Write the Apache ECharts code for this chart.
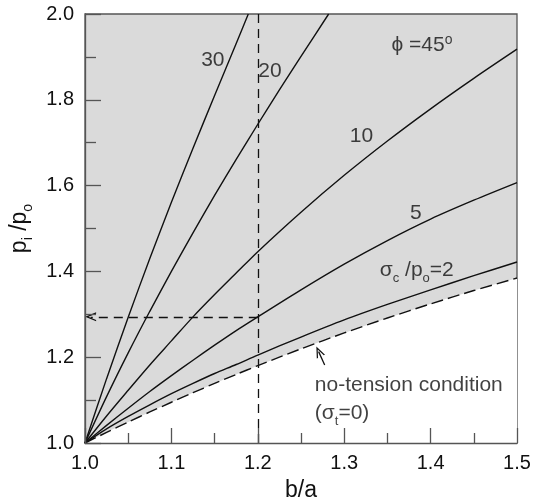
<!DOCTYPE html>
<html>
<head>
<meta charset="utf-8">
<script src="https://cdn.jsdelivr.net/npm/echarts@6/dist/echarts.min.js"></script>
<style>
  html, body { margin: 0; padding: 0; background: #fff; }
  #chart { width: 538px; height: 500px; }
</style>
</head>
<body>
<div id="chart"></div>
<script>
// p_i/p_o vs b/a, phi = 45 deg, one curve per sigma_c/p_o
var x30 = [1.0, 1.025, 1.05, 1.075, 1.1, 1.125, 1.15, 1.175, 1.189];
var y30 = [1.0, 1.150, 1.293, 1.430, 1.561, 1.687, 1.810, 1.931, 2.0];

var x20 = [1.0, 1.025, 1.05, 1.075, 1.1, 1.125, 1.15, 1.175, 1.2, 1.225, 1.25, 1.282];
var y20 = [1.0, 1.108, 1.210, 1.307, 1.400, 1.490, 1.577, 1.661, 1.743, 1.823, 1.901, 2.0];

var xs = [1.0, 1.025, 1.05, 1.075, 1.1, 1.125, 1.15, 1.175, 1.2, 1.25, 1.3, 1.35, 1.4, 1.45, 1.5];
var y10 = [1.0, 1.063, 1.123, 1.182, 1.238, 1.294, 1.346, 1.396, 1.446, 1.538, 1.624, 1.704, 1.779, 1.850, 1.918];
var y5 = [1.0, 1.041, 1.081, 1.120, 1.157, 1.193, 1.228, 1.262, 1.294, 1.357, 1.417, 1.472, 1.522, 1.566, 1.607];
var y2 = [1.0, 1.033, 1.062, 1.089, 1.115, 1.139, 1.162, 1.183, 1.205, 1.247, 1.287, 1.323, 1.357, 1.390, 1.422];
var yNoTension = [1.0, 1.0247, 1.0488, 1.0723, 1.0950, 1.1172, 1.1389, 1.1599, 1.1803, 1.2195, 1.2565, 1.2914, 1.3243, 1.3554, 1.3846];

var xTicks = ['1.0', '1.1', '1.2', '1.3', '1.4', '1.5'];
var yTicks = ['1.0', '1.2', '1.4', '1.6', '1.8', '2.0'];

// worked example: b/a = 1.2 -> p_i/p_o = 1.294
var refX = 1.2;
var refY = 1.294;

var FONT = '"Liberation Sans", Arial, sans-serif';
var CHEVRON = 'path://M5,0 L10,10 L8.5,10 L5,3 L1.5,10 L0,10 Z';

function pairs(x, y) {
  return x.map(function(v, i) { return [v, y[i]]; });
}

function curve(name, x, y, dashed, extra) {
  var s = {
    name: name,
    type: 'line',
    data: pairs(x, y),
    symbol: 'none',
    smooth: 0.3,
    silent: true,
    lineStyle: { color: '#111', width: 1.4, type: dashed ? [12, 5] : 'solid' },
    z: 3
  };
  if (extra) for (var k in extra) s[k] = extra[k];
  return s;
}

var rich = {
  n: { fontSize: 21, fontFamily: FONT, color: '#111', lineHeight: 23 },
  sub: { fontSize: 13, fontFamily: FONT, color: '#111', lineHeight: 13, verticalAlign: 'bottom', padding: [0, 0, -3, 0] },
  sup: { fontSize: 14, fontFamily: FONT, color: '#111', lineHeight: 14, verticalAlign: 'top' }
};
var richName = {
  n: { fontSize: 23, fontFamily: FONT, color: '#111', lineHeight: 25 },
  sub: { fontSize: 14, fontFamily: FONT, color: '#111', lineHeight: 14, verticalAlign: 'bottom', padding: [0, 0, -3, 0] }
};

var notes = [
  { value: [1.148, 1.892], text: '{n|30}', align: 'center' },
  { value: [1.214, 1.866], text: '{n|20}', align: 'center' },
  { value: [1.320, 1.714], text: '{n|10}', align: 'center' },
  { value: [1.383, 1.536], text: '{n|5}', align: 'center' },
  { value: [1.384, 1.403], text: '{n|σ}{sub|c}{n| /p}{sub|o}{n|=2}', align: 'center' },
  { value: [1.390, 1.928], text: '{n|ϕ =45}{sup|o}', align: 'center' },
  { value: [1.266, 1.135], text: '{n|no-tension condition}', align: 'left' },
  { value: [1.266, 1.069], text: '{n|(σ}{sub|t}{n|=0)}', align: 'left' }
];

var chart = echarts.init(document.getElementById('chart'));

chart.setOption({
  animation: false,
  backgroundColor: '#fff',
  grid: {
    left: 85, right: 21, top: 14, bottom: 57,
    outerBoundsMode: 'none',
    show: true,
    backgroundColor: '#dadada',
    borderColor: '#555',
    borderWidth: 1.3
  },
  xAxis: {
    type: 'value',
    min: 1.0, max: 1.5, interval: 0.1,
    z: 5,
    name: 'b/a',
    nameLocation: 'middle',
    nameGap: 36,
    nameTextStyle: { fontSize: 23, fontFamily: FONT, color: '#111' },
    axisLine: { show: true, lineStyle: { color: '#555', width: 1.3 } },
    axisTick: { show: true, inside: true, length: 15, lineStyle: { color: '#555', width: 1.3 } },
    minorTick: { show: true, splitNumber: 2, length: 10, lineStyle: { color: '#555', width: 1.3 } },
    splitLine: { show: false },
    axisLabel: {
      margin: 10, fontSize: 20, fontFamily: FONT, color: '#111',
      formatter: function(v) { return xTicks[Math.round((v - 1) * 10)]; }
    }
  },
  yAxis: {
    type: 'value',
    min: 1.0, max: 2.0, interval: 0.2,
    z: 5,
    name: '{n|p}{sub|i}{n| /p}{sub|o}',
    nameLocation: 'middle',
    nameRotate: 90,
    nameGap: 34,
    nameTextStyle: { rich: richName },
    axisLine: { show: true, lineStyle: { color: '#555', width: 1.3 } },
    axisTick: { show: true, inside: true, length: 16, lineStyle: { color: '#555', width: 1.3 } },
    minorTick: { show: true, splitNumber: 2, length: 11, lineStyle: { color: '#555', width: 1.3 } },
    splitLine: { show: false },
    axisLabel: {
      margin: 11, fontSize: 20, fontFamily: FONT, color: '#111',
      formatter: function(v) { return yTicks[Math.round((v - 1) * 5)]; }
    }
  },
  series: [
    // white area below the no-tension line, grey stays above it
    curve('no-tension', xs, yNoTension, true, {
      areaStyle: { color: '#fff', opacity: 1, origin: 'start' },
      z: 2,
      markLine: {
        silent: true,
        symbol: ['none', 'none'],
        label: { show: false },
        lineStyle: { color: '#111', width: 1.3, type: [9, 6] },
        data: [
          [{ coord: [refX, 1.0] }, { coord: [refX, 2.0] }],
          [{ coord: [refX, refY], symbol: 'none' },
           { coord: [1.0065, refY], symbol: CHEVRON, symbolSize: [9, 11] }],
          [{ coord: [1.2774, 1.1818], symbol: 'none', lineStyle: { type: 'solid', width: 1.3 } },
           { coord: [1.2704, 1.2130], symbol: CHEVRON, symbolSize: [9, 11],
             lineStyle: { type: 'solid', width: 1.3 } }]
        ]
      }
    }),
    curve('sc/po=2', xs, y2),
    curve('5', xs, y5),
    curve('10', xs, y10),
    curve('20', x20, y20),
    curve('30', x30, y30),
    {
      name: 'notes',
      type: 'scatter',
      silent: true,
      symbolSize: 0,
      z: 6,
      data: notes.map(function(n) {
        return {
          value: n.value,
          label: {
            show: true,
            position: 'inside',
            align: n.align,
            formatter: n.text,
            rich: rich
          }
        };
      })
    }
  ]
});
</script>
</body>
</html>
